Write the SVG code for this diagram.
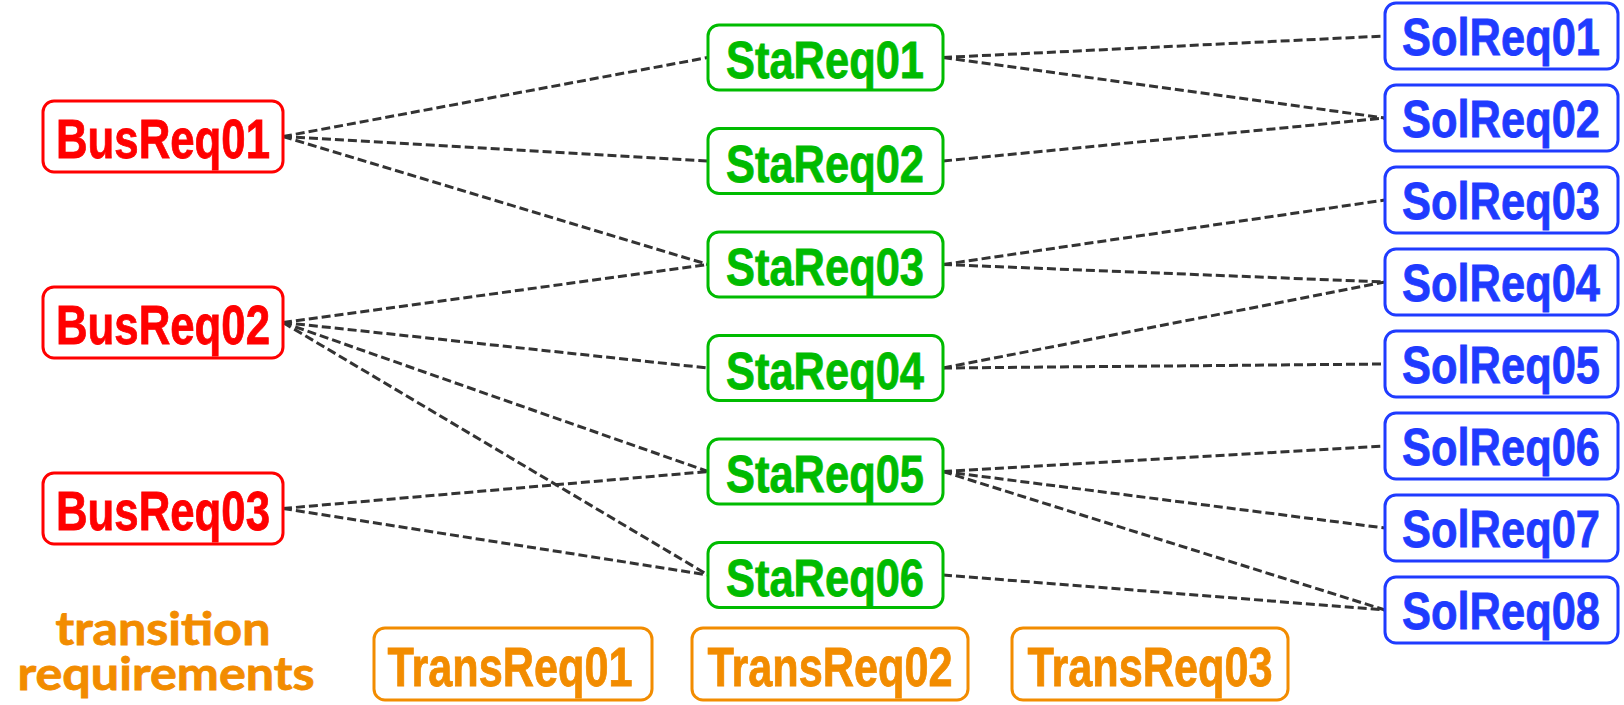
<svg xmlns="http://www.w3.org/2000/svg" width="1624" height="705" viewBox="0 0 1624 705">
  <style>
    .box { fill: #ffffff; stroke-width: 3; }
    .lbl { font-family: "Liberation Sans", Arial, sans-serif; font-weight: bold; text-anchor: middle; stroke-width: 0.8; }
    .bus .box { stroke: #ff0000; }
    .bus .lbl { fill: #ff0000; stroke: #ff0000; font-size: 55px; }
    .sta .box { stroke: #00bb00; }
    .sta .lbl { fill: #00bb00; stroke: #00bb00; font-size: 51px; }
    .sol .box { stroke: #1f3bff; }
    .sol .lbl { fill: #1f3bff; stroke: #1f3bff; font-size: 52px; }
    .trans .box { stroke: #f28c00; }
    .trans .lbl { fill: #f28c00; stroke: #f28c00; font-size: 55px; }
    .caption { font-family: Lato, "Open Sans", sans-serif; font-weight: bold; font-size: 45px; fill: #f28c00; stroke: #f28c00; stroke-width: 0.8; text-anchor: middle; }
    #connectors line { stroke: #333333; stroke-width: 3; stroke-dasharray: 9 4; fill: none; }
  </style>

  <!-- dashed trace links -->
  <g id="connectors">
    <line x1="283" y1="136.5" x2="708" y2="57.5"/>
    <line x1="283" y1="136.5" x2="708" y2="161"/>
    <line x1="283" y1="136.5" x2="708" y2="264.5"/>
    <line x1="283" y1="322.5" x2="708" y2="264.5"/>
    <line x1="283" y1="322.5" x2="708" y2="368"/>
    <line x1="283" y1="322.5" x2="708" y2="471.5"/>
    <line x1="283" y1="322.5" x2="708" y2="575"/>
    <line x1="283" y1="508.5" x2="708" y2="471.5"/>
    <line x1="283" y1="508.5" x2="708" y2="575"/>
    <line x1="943" y1="57.5" x2="1385" y2="36"/>
    <line x1="943" y1="57.5" x2="1385" y2="118"/>
    <line x1="943" y1="161" x2="1385" y2="118"/>
    <line x1="943" y1="264.5" x2="1385" y2="200"/>
    <line x1="943" y1="264.5" x2="1385" y2="282"/>
    <line x1="943" y1="368" x2="1385" y2="282"/>
    <line x1="943" y1="368" x2="1385" y2="364"/>
    <line x1="943" y1="471.5" x2="1385" y2="446"/>
    <line x1="943" y1="471.5" x2="1385" y2="528"/>
    <line x1="943" y1="471.5" x2="1385" y2="610"/>
    <line x1="943" y1="575" x2="1385" y2="610"/>
  </g>

  <!-- business requirements -->
  <g id="BusReq01" class="bus">
    <rect class="box" x="43" y="101" width="240" height="71" rx="11"/>
    <text class="lbl" x="163" y="158" textLength="214" lengthAdjust="spacingAndGlyphs">BusReq01</text>
  </g>
  <g id="BusReq02" class="bus">
    <rect class="box" x="43" y="287" width="240" height="71" rx="11"/>
    <text class="lbl" x="163" y="344" textLength="214" lengthAdjust="spacingAndGlyphs">BusReq02</text>
  </g>
  <g id="BusReq03" class="bus">
    <rect class="box" x="43" y="473" width="240" height="71" rx="11"/>
    <text class="lbl" x="163" y="530" textLength="214" lengthAdjust="spacingAndGlyphs">BusReq03</text>
  </g>

  <!-- stakeholder requirements -->
  <g id="StaReq01" class="sta">
    <rect class="box" x="708" y="25" width="235" height="65" rx="11"/>
    <text class="lbl" x="825" y="78" textLength="198" lengthAdjust="spacingAndGlyphs">StaReq01</text>
  </g>
  <g id="StaReq02" class="sta">
    <rect class="box" x="708" y="128.5" width="235" height="65" rx="11"/>
    <text class="lbl" x="825" y="181.5" textLength="198" lengthAdjust="spacingAndGlyphs">StaReq02</text>
  </g>
  <g id="StaReq03" class="sta">
    <rect class="box" x="708" y="232" width="235" height="65" rx="11"/>
    <text class="lbl" x="825" y="285" textLength="198" lengthAdjust="spacingAndGlyphs">StaReq03</text>
  </g>
  <g id="StaReq04" class="sta">
    <rect class="box" x="708" y="335.5" width="235" height="65" rx="11"/>
    <text class="lbl" x="825" y="388.5" textLength="198" lengthAdjust="spacingAndGlyphs">StaReq04</text>
  </g>
  <g id="StaReq05" class="sta">
    <rect class="box" x="708" y="439" width="235" height="65" rx="11"/>
    <text class="lbl" x="825" y="492" textLength="198" lengthAdjust="spacingAndGlyphs">StaReq05</text>
  </g>
  <g id="StaReq06" class="sta">
    <rect class="box" x="708" y="542.5" width="235" height="65" rx="11"/>
    <text class="lbl" x="825" y="595.5" textLength="198" lengthAdjust="spacingAndGlyphs">StaReq06</text>
  </g>

  <!-- solution requirements -->
  <g id="SolReq01" class="sol">
    <rect class="box" x="1385" y="3" width="233" height="66" rx="11"/>
    <text class="lbl" x="1501" y="55" textLength="198" lengthAdjust="spacingAndGlyphs">SolReq01</text>
  </g>
  <g id="SolReq02" class="sol">
    <rect class="box" x="1385" y="85" width="233" height="66" rx="11"/>
    <text class="lbl" x="1501" y="137" textLength="198" lengthAdjust="spacingAndGlyphs">SolReq02</text>
  </g>
  <g id="SolReq03" class="sol">
    <rect class="box" x="1385" y="167" width="233" height="66" rx="11"/>
    <text class="lbl" x="1501" y="219" textLength="198" lengthAdjust="spacingAndGlyphs">SolReq03</text>
  </g>
  <g id="SolReq04" class="sol">
    <rect class="box" x="1385" y="249" width="233" height="66" rx="11"/>
    <text class="lbl" x="1501" y="301" textLength="198" lengthAdjust="spacingAndGlyphs">SolReq04</text>
  </g>
  <g id="SolReq05" class="sol">
    <rect class="box" x="1385" y="331" width="233" height="66" rx="11"/>
    <text class="lbl" x="1501" y="383" textLength="198" lengthAdjust="spacingAndGlyphs">SolReq05</text>
  </g>
  <g id="SolReq06" class="sol">
    <rect class="box" x="1385" y="413" width="233" height="66" rx="11"/>
    <text class="lbl" x="1501" y="465" textLength="198" lengthAdjust="spacingAndGlyphs">SolReq06</text>
  </g>
  <g id="SolReq07" class="sol">
    <rect class="box" x="1385" y="495" width="233" height="66" rx="11"/>
    <text class="lbl" x="1501" y="547" textLength="198" lengthAdjust="spacingAndGlyphs">SolReq07</text>
  </g>
  <g id="SolReq08" class="sol">
    <rect class="box" x="1385" y="577" width="233" height="66" rx="11"/>
    <text class="lbl" x="1501" y="629" textLength="198" lengthAdjust="spacingAndGlyphs">SolReq08</text>
  </g>

  <!-- transition requirements row -->
  <g id="caption">
    <text class="caption" x="163" y="645" textLength="215" lengthAdjust="spacingAndGlyphs">transition</text>
    <text class="caption" x="166" y="690" textLength="297" lengthAdjust="spacingAndGlyphs">requirements</text>
  </g>
  <g id="TransReq01" class="trans">
    <rect class="box" x="374" y="628" width="278" height="72" rx="11"/>
    <text class="lbl" x="510" y="686" textLength="245" lengthAdjust="spacingAndGlyphs">TransReq01</text>
  </g>
  <g id="TransReq02" class="trans">
    <rect class="box" x="692" y="628" width="276" height="72" rx="11"/>
    <text class="lbl" x="830" y="686" textLength="245" lengthAdjust="spacingAndGlyphs">TransReq02</text>
  </g>
  <g id="TransReq03" class="trans">
    <rect class="box" x="1012" y="628" width="276" height="72" rx="11"/>
    <text class="lbl" x="1150" y="686" textLength="245" lengthAdjust="spacingAndGlyphs">TransReq03</text>
  </g>
</svg>
